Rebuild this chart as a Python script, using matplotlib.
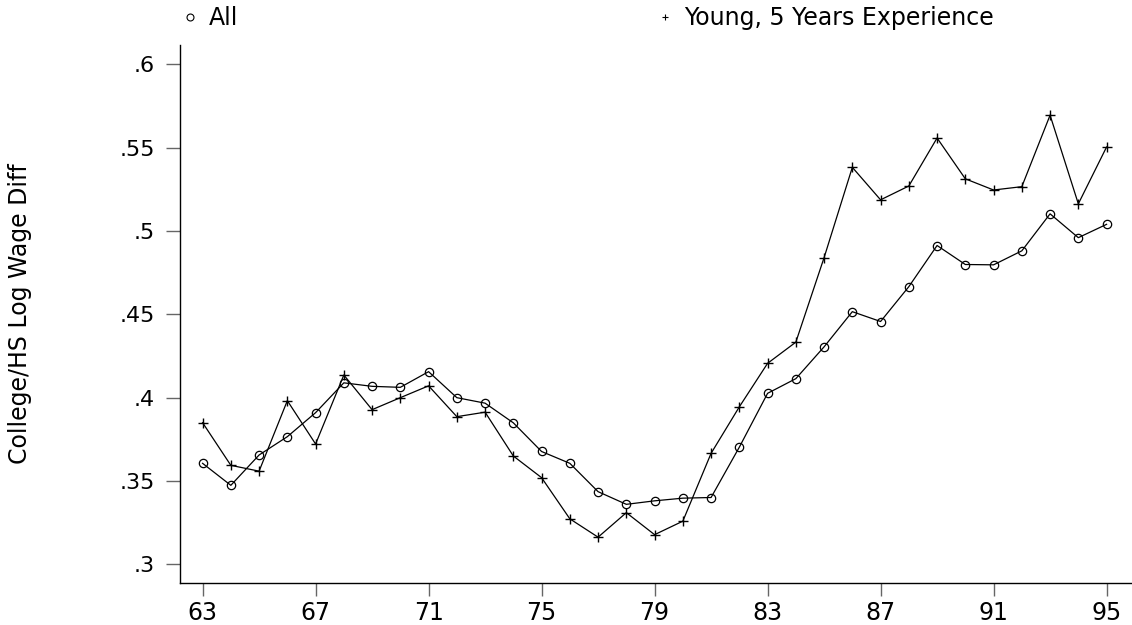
import matplotlib.pyplot as plt
from matplotlib.lines import Line2D

plt.rcParams["font.family"] = "DejaVu Sans"

years = list(range(63, 96))
all_workers = [0.3606, 0.3474, 0.3656, 0.3766, 0.3910, 0.4089, 0.4068, 0.4062,
               0.4156, 0.4000, 0.3967, 0.3849, 0.3677, 0.3606, 0.3436, 0.3360,
               0.3381, 0.3397, 0.3401, 0.3703, 0.4026, 0.4114, 0.4305, 0.4516,
               0.4457, 0.4666, 0.4913, 0.4799, 0.4797, 0.4881, 0.5103, 0.4960,
               0.5040]
young_5yr = [0.3850, 0.3594, 0.3559, 0.3982, 0.3722, 0.4136, 0.3928, 0.4000,
             0.4071, 0.3886, 0.3913, 0.3650, 0.3520, 0.3273, 0.3163, 0.3310,
             0.3178, 0.3259, 0.3666, 0.3945, 0.4206, 0.4333, 0.4840, 0.5382,
             0.5187, 0.5270, 0.5558, 0.5313, 0.5246, 0.5266, 0.5695, 0.5163,
             0.5504]
xtick_years = [63, 67, 71, 75, 79, 83, 87, 91, 95]
ytick_vals = [0.3, 0.35, 0.4, 0.45, 0.5, 0.55, 0.6]
ytick_labels = [".3", ".35", ".4", ".45", ".5", ".55", ".6"]

fig = plt.figure(figsize=(11.32, 6.25), dpi=100)
ax = fig.add_axes([0.159, 0.0672, 0.841, 0.8608])

ax.plot(years, all_workers, color="black", lw=0.9, marker="o", ms=6,
        mfc="none", mec="black", mew=0.9)
ax.plot(years, young_5yr, color="black", lw=0.9, marker="+", ms=7.5,
        mew=1.0)

ax.set_xlim(62.20, 95.9)
ax.set_ylim(0.2888, 0.6116)
ax.set_xticks(xtick_years)
ax.set_xticklabels([str(y) for y in xtick_years])
ax.set_yticks(ytick_vals)
ax.set_yticklabels(ytick_labels)
ax.tick_params(axis="both", width=1.0, color="0.4", direction="out")
ax.tick_params(axis="x", labelsize=17, length=9, pad=4)
ax.tick_params(axis="y", labelsize=16, length=10, pad=8)

for side in ["top", "right"]:
    ax.spines[side].set_visible(False)
for side in ["left", "bottom"]:
    ax.spines[side].set_linewidth(1.0)

ax.set_ylabel("College/HS Log Wage Diff", fontsize=17)
ax.yaxis.set_label_coords(-0.155, 0.5)

# legend entries: marker only, spread along the top
leg_kw = dict(loc="center left", frameon=False, fontsize=17,
              handlelength=0.6, handletextpad=0.5,
              borderaxespad=0, borderpad=0)
fig.legend([Line2D([], [], ls="none", marker="o", ms=5, mfc="none",
                   mec="black", mew=0.8)],
           ["All"], bbox_to_anchor=(0.1617, 0.971), **leg_kw)
fig.legend([Line2D([], [], ls="none", marker="+", ms=5, color="black",
                   mew=0.8)],
           ["Young, 5 Years Experience"], bbox_to_anchor=(0.5813, 0.971),
           **leg_kw)

fig.savefig("out.png", dpi=100)
